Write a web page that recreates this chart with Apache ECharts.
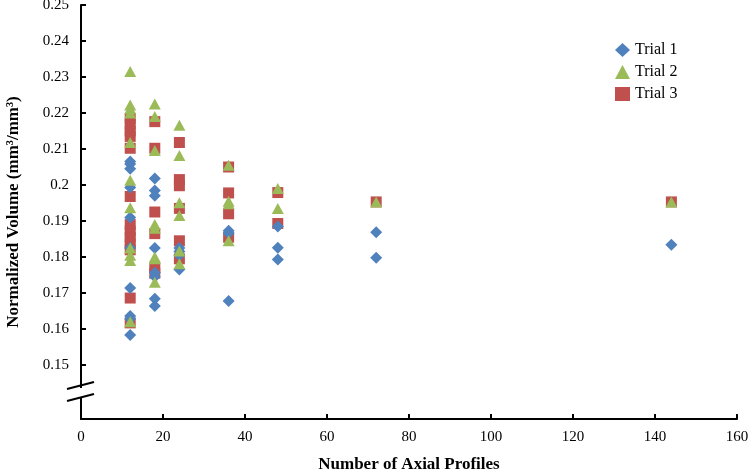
<!DOCTYPE html>
<html>
<head>
<meta charset="utf-8">
<script src="https://cdn.jsdelivr.net/npm/echarts@6/dist/echarts.min.js"></script>
<style>html,body{margin:0;padding:0;background:#fff}#c{width:750px;height:472px}</style>
</head>
<body>
<div id="c"></div>
<script>
const seriesNames = ['Trial 1', 'Trial 2', 'Trial 3'];
const xTicks = [0, 20, 40, 60, 80, 100, 120, 140, 160];
const yTicks = [0.15, 0.16, 0.17, 0.18, 0.19, 0.20, 0.21, 0.22, 0.23, 0.24, 0.25];

const trial1 = [
  [12,0.2065],[12,0.2058],[12,0.2045],[12,0.1993],[12,0.1910],[12,0.1825],[12,0.1714],[12,0.1636],[12,0.1628],[12,0.1583],
  [18,0.2018],[18,0.1985],[18,0.1970],[18,0.1825],[18,0.1756],[18,0.1745],[18,0.1684],[18,0.1664],
  [24,0.1825],[24,0.1815],[24,0.1805],[24,0.1765],
  [36,0.1873],[36,0.1866],[36,0.1678],
  [48,0.1885],[48,0.1826],[48,0.1793],
  [72,0.1869],[72,0.1798],
  [144,0.1834]
];
const trial2 = [
  [12,0.2315],[12,0.2222],[12,0.2212],[12,0.2200],[12,0.2118],[12,0.2013],[12,0.1937],[12,0.1825],[12,0.1805],[12,0.1790],[12,0.1620],
  [18,0.2225],[18,0.2190],[18,0.2096],[18,0.1890],[18,0.1880],[18,0.1800],[18,0.1795],[18,0.1730],
  [24,0.2166],[24,0.2082],[24,0.1951],[24,0.1915],[24,0.1817],[24,0.1781],
  [36,0.2055],[36,0.1955],[36,0.1948],[36,0.1845],
  [48,0.1990],[48,0.1935],
  [72,0.1953],
  [144,0.1953]
];
const trial3 = [
  [12,0.2185],[12,0.2168],[12,0.2150],[12,0.2135],[12,0.2102],[12,0.1968],[12,0.1890],[12,0.1872],[12,0.1855],[12,0.1838],[12,0.1820],[12,0.1686],[12,0.1617],
  [18,0.2176],[18,0.2102],[18,0.1925],[18,0.1865],[18,0.1770],[18,0.1755],
  [24,0.2118],[24,0.2015],[24,0.1998],[24,0.1935],[24,0.1845],[24,0.1795],
  [36,0.2050],[36,0.1978],[36,0.1920],[36,0.1855],
  [48,0.1979],[48,0.1893],
  [72,0.1953],
  [144,0.1953]
];

const serif = '"Liberation Serif", "Times New Roman", serif';
const chart = echarts.init(document.getElementById('c'), null, {renderer: 'canvas'});
chart.setOption({
  animation: false,
  backgroundColor: '#fff',
  grid: {left: 81, right: 13, top: 5, bottom: 53, containLabel: false, outerBoundsMode: 'none'},
  legend: {
    data: seriesNames,
    orient: 'vertical',
    left: 610, top: 37,
    itemGap: 6,
    itemWidth: 15, itemHeight: 14,
    textStyle: {fontFamily: serif, fontSize: 16, color: '#000'}
  },
  xAxis: {
    type: 'value', min: 0, max: 160, interval: 20,
    name: 'Number of Axial Profiles', nameLocation: 'middle', nameGap: 37,
    nameTextStyle: {fontFamily: serif, fontSize: 17, fontWeight: 'bold', color: '#000'},
    axisLine: {show: true, onZero: false, lineStyle: {color: '#000', width: 2}},
    axisTick: {show: true, inside: true, length: 5, lineStyle: {color: '#000', width: 2}, customValues: xTicks},
    axisLabel: {fontFamily: serif, fontSize: 15, color: '#000', margin: 11, customValues: xTicks},
    splitLine: {show: false}
  },
  yAxis: {
    type: 'value', min: 0.135, max: 0.25,
    name: 'Normalized Volume (mm³/mm³)', nameLocation: 'middle', nameGap: 59, nameRotate: 90,
    nameTextStyle: {fontFamily: serif, fontSize: 17, fontWeight: 'bold', color: '#000'},
    axisLine: {show: true, onZero: false, lineStyle: {color: '#000', width: 2}},
    axisTick: {show: true, inside: true, length: 5, lineStyle: {color: '#000', width: 2}, customValues: yTicks},
    axisLabel: {fontFamily: serif, fontSize: 15, color: '#000', margin: 12, customValues: yTicks,
      formatter: v => String(Math.round(v * 100) / 100)},
    splitLine: {show: false}
  },
  series: [
    {name: 'Trial 1', type: 'scatter', data: trial1, symbol: 'diamond', symbolSize: [12, 12], z: 3,
      itemStyle: {color: '#4F81BD', opacity: 1}},
    {name: 'Trial 2', type: 'scatter', data: trial2, symbol: 'triangle', symbolSize: [12, 11], z: 4,
      itemStyle: {color: '#9BBB59', opacity: 1}},
    {name: 'Trial 3', type: 'scatter', data: trial3, symbol: 'rect', symbolSize: [11, 11], z: 2,
      itemStyle: {color: '#C0504D', opacity: 1}}
  ],
  graphic: [
    {type: 'rect', shape: {x: 76, y: 388, width: 10, height: 9}, style: {fill: '#fff'}, z: 100},
    {type: 'line', shape: {x1: 67, y1: 389, x2: 94, y2: 382}, style: {stroke: '#000', lineWidth: 2}, z: 101},
    {type: 'line', shape: {x1: 67, y1: 401, x2: 94, y2: 394}, style: {stroke: '#000', lineWidth: 2}, z: 101}
  ]
});
</script>
</body>
</html>
